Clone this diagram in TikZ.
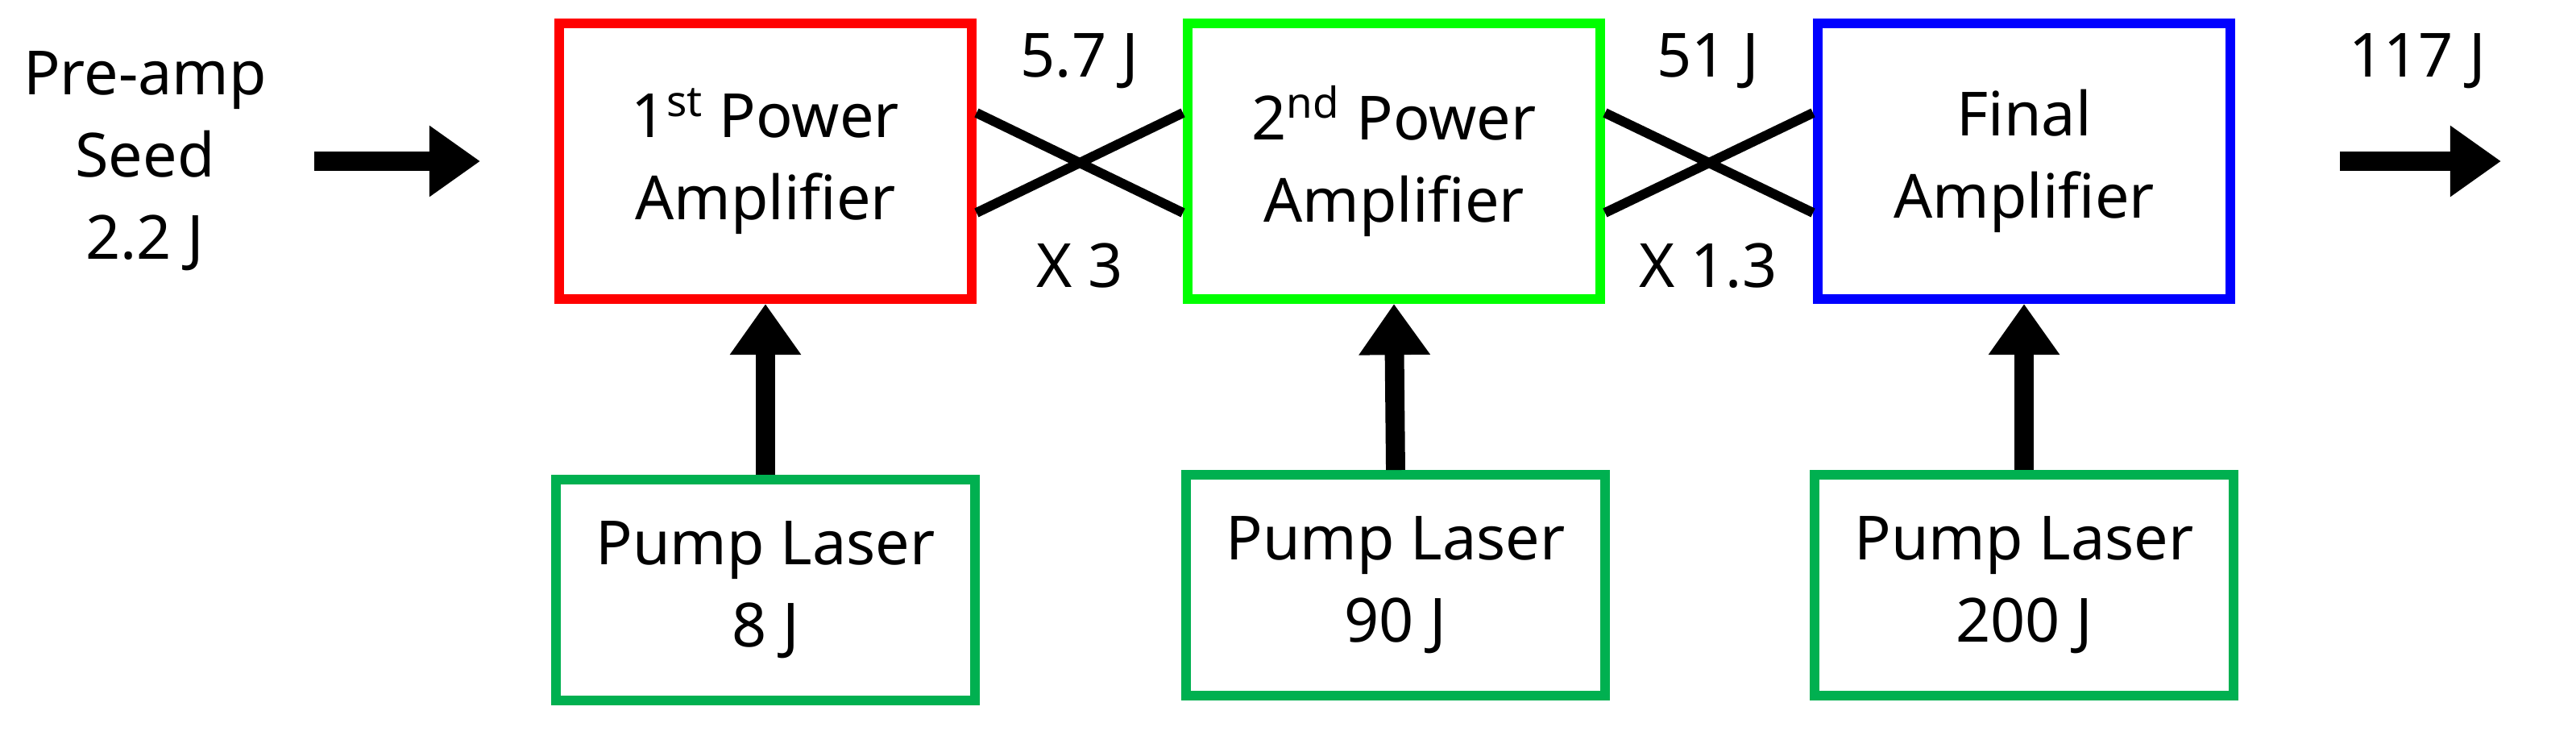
\documentclass[tikz,border=0pt]{standalone}
\usepackage{fontspec}
\setmainfont{Noto Sans}
\usetikzlibrary{arrows.meta}
\begin{document}
\begin{tikzpicture}[x=0.02cm,y=-0.02cm,
  amp/.style={rectangle,draw,line width=3.4pt,minimum width=5.12cm,minimum height=3.42cm,align=center,font=\fontsize{21.5}{29}\selectfont},
  pump/.style={rectangle,draw=pumpc,line width=3.4pt,minimum width=5.2cm,minimum height=2.74cm,align=center,font=\fontsize{21.5}{29}\selectfont},
  lbl/.style={font=\fontsize{21.5}{29}\selectfont,align=center},
  big/.style={line width=6.8pt,-{Triangle[length=18pt,width=24pt]}},
  cross/.style={line width=3.4pt}]
\definecolor{pumpc}{RGB}{0,176,80}
\definecolor{g2}{RGB}{0,255,0}
\useasboundingbox (0,0) rectangle (1598.5,461);
\node[amp,draw=red] (a1) at (475,100) {1\textsuperscript{st} Power\\Amplifier};
\node[amp,draw=g2] (a2) at (865,100) {2\textsuperscript{nd} Power\\Amplifier};
\node[amp,draw=blue] (a3) at (1256,100) {Final\\Amplifier};
\node[pump] (p1) at (475,366) {Pump Laser\\8 J};
\node[pump] (p2) at (866,363) {Pump Laser\\90 J};
\node[pump] (p3) at (1256,363) {Pump Laser\\200 J};
\draw[big] (p1.north) -- (a1.south);
\draw[big] (p2.north) -- (a2.south);
\draw[big] (p3.north) -- (a3.south);
\node[lbl] (seed) at (90,100) {Pre-amp\\Seed\\2.2 J};
\coordinate (s0) at (195,100); \coordinate (s1) at (298,100);
\draw[big] (s0) -- (s1);
\coordinate (o0) at (1452,100); \coordinate (o1) at (1552,100);
\draw[big] (o0) -- (o1);
\draw[cross] ([yshift=-0.64cm]a1.east) -- ([yshift=0.6cm]a2.west);
\draw[cross] ([yshift=0.6cm]a1.east) -- ([yshift=-0.64cm]a2.west);
\draw[cross] ([yshift=-0.64cm]a2.east) -- ([yshift=0.6cm]a3.west);
\draw[cross] ([yshift=0.6cm]a2.east) -- ([yshift=-0.64cm]a3.west);
\node[lbl] (l1) at (670,38) {5.7 J};
\node[lbl] (l2) at (670,165) {X 3};
\node[lbl] (l3) at (1060,38) {51 J};
\node[lbl] (l4) at (1060,165) {X 1.3};
\node[lbl] (l5) at (1500,38) {117 J};
\end{tikzpicture}
\end{document}
